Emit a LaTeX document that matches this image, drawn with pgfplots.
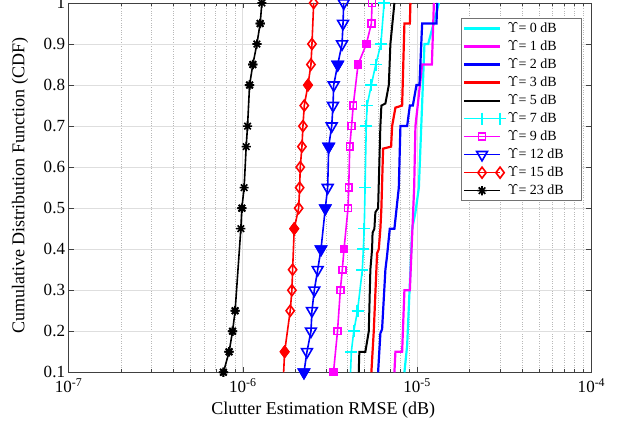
\documentclass[border=0pt]{standalone}
\usepackage{pgfplots}
\pgfplotsset{compat=1.18}
\usepackage{pgfplotstable}
\usepackage{fontspec}
\setmainfont{Liberation Serif}

\definecolor{mcyan}{rgb}{0,1,1}
\definecolor{mmag}{rgb}{1,0,1}
\definecolor{mblue}{rgb}{0,0,1}
\definecolor{mred}{rgb}{1,0,0}

% legend text cell of fixed width, as in the reference box
\newcommand{\legtext}[1]{\makebox[70bp][l]{#1}}

% MATLAB-style 8-armed asterisk
\pgfdeclareplotmark{mstar}{%
  \pgfpathmoveto{\pgfpoint{-\pgfplotmarksize}{0pt}}\pgfpathlineto{\pgfpoint{\pgfplotmarksize}{0pt}}%
  \pgfpathmoveto{\pgfpoint{0pt}{-\pgfplotmarksize}}\pgfpathlineto{\pgfpoint{0pt}{\pgfplotmarksize}}%
  \pgfpathmoveto{\pgfpoint{-0.707\pgfplotmarksize}{-0.707\pgfplotmarksize}}\pgfpathlineto{\pgfpoint{0.707\pgfplotmarksize}{0.707\pgfplotmarksize}}%
  \pgfpathmoveto{\pgfpoint{-0.707\pgfplotmarksize}{0.707\pgfplotmarksize}}\pgfpathlineto{\pgfpoint{0.707\pgfplotmarksize}{-0.707\pgfplotmarksize}}%
  \pgfusepathqstroke}

\pgfplotstableread{
x y
8.452e-6 0.10
8.761e-6 0.165
9.152e-6 0.35
9.360e-6 0.45
9.777e-6 0.49
1.0228e-5 0.55
1.1014e-5 0.90
1.1567e-5 0.90
1.3326e-5 1.00
}\dzero
\pgfplotstableread{
x y
7.406e-6 0.10
7.505e-6 0.15
8.200e-6 0.15
8.452e-6 0.30
9.080e-6 0.30
9.611e-6 0.55
9.777e-6 0.70
1.0684e-5 0.85
1.2148e-5 0.85
1.2474e-5 1.00
}\done
\pgfplotstableread{
x y
5.969e-6 0.10
6.153e-6 0.195
6.293e-6 0.205
6.574e-6 0.35
6.724e-6 0.385
6.968e-6 0.45
7.406e-6 0.45
7.849e-6 0.55
8.017e-6 0.70
8.761e-6 0.70
9.080e-6 0.75
9.448e-6 0.75
9.908e-6 0.80
1.0309e-5 0.80
1.0684e-5 0.95
1.2910e-5 0.95
1.3029e-5 1.00
}\dtwo
\pgfplotstableread{
x y
5.462e-6 0.10
5.638e-6 0.20
5.890e-6 0.39
6.024e-6 0.40
6.153e-6 0.45
6.235e-6 0.50
6.377e-6 0.645
7.089e-6 0.65
7.184e-6 0.70
7.505e-6 0.745
8.200e-6 0.75
8.452e-6 0.95
9.080e-6 0.95
9.152e-6 1.00
}\dthree
\pgfplotstableread{
x y
4.623e-6 0.10
4.660e-6 0.15
5.045e-6 0.15
5.278e-6 0.20
5.390e-6 0.35
5.513e-6 0.40
5.550e-6 0.44
5.684e-6 0.45
5.759e-6 0.49
5.969e-6 0.50
6.153e-6 0.70
6.235e-6 0.75
6.574e-6 0.755
6.876e-6 0.80
7.023e-6 0.90
7.406e-6 1.00
}\dfive
\pgfplotstableread{
x y
4.148e-6 0.10
4.193e-6 0.15
4.328e-6 0.20
4.550e-6 0.25
4.848e-6 0.35
4.913e-6 0.40
4.972e-6 0.45
5.024e-6 0.55
5.105e-6 0.70
5.160e-6 0.75
5.455e-6 0.80
5.789e-6 0.85
6.194e-6 0.90
6.462e-6 1.00
}\dseven
\pgfplotstableread{
x y
3.312e-6 0.10
3.492e-6 0.20
3.624e-6 0.30
3.721e-6 0.35
3.806e-6 0.40
4.012e-6 0.50
4.050e-6 0.55
4.104e-6 0.65
4.204e-6 0.70
4.299e-6 0.75
4.580e-6 0.85
5.112e-6 0.90
5.462e-6 0.95
5.513e-6 1.00
}\dnine
\pgfplotstableread{
x y
2.242e-6 0.10
2.333e-6 0.15
2.459e-6 0.20
2.492e-6 0.25
2.570e-6 0.30
2.688e-6 0.35
2.808e-6 0.40
2.972e-6 0.50
3.067e-6 0.55
3.108e-6 0.65
3.234e-6 0.70
3.290e-6 0.75
3.321e-6 0.80
3.502e-6 0.85
3.707e-6 0.90
3.756e-6 0.95
3.791e-6 1.00
}\dtwelve
\pgfplotstableread{
x y
1.714e-6 0.10
1.737e-6 0.15
1.870e-6 0.25
1.912e-6 0.30
1.930e-6 0.35
1.972e-6 0.45
2.090e-6 0.50
2.118e-6 0.55
2.135e-6 0.60
2.183e-6 0.65
2.212e-6 0.70
2.251e-6 0.75
2.364e-6 0.80
2.459e-6 0.85
2.492e-6 0.90
2.549e-6 1.00
}\dfifteen
\pgfplotstableread{
x y
7.74e-7 0.10
8.34e-7 0.15
8.73e-7 0.20
9.03e-7 0.25
9.74e-7 0.45
9.87e-7 0.50
1.017e-6 0.55
1.045e-6 0.65
1.064e-6 0.70
1.093e-6 0.80
1.141e-6 0.85
1.204e-6 0.90
1.257e-6 0.95
1.286e-6 1.00
}\dtwentythree

\begin{document}
\begin{tikzpicture}
\begin{axis}[
  scale only axis, width=522.5bp, height=369bp,
  xmode=log, xmin=1e-7, xmax=1e-4, ymin=0.1, ymax=1,
  xtick={1e-7,1e-6,1e-5,1e-4},
  xticklabels={10\textsuperscript{-7},10\textsuperscript{-6},10\textsuperscript{-5},10\textsuperscript{-4}},
  ytick={0.1,0.2,0.3,0.4,0.5,0.6,0.7,0.8,0.9,1},
  /pgf/number format/assume math mode=true,
  ticklabel style={font=\fontsize{17bp}{20bp}\selectfont},
  xticklabel style={yshift=-3bp},
  label style={font=\fontsize{18bp}{21bp}\selectfont},
  xlabel={Clutter Estimation RMSE (dB)},
  ylabel={Cumulative Distribution Function (CDF)},
  xlabel style={at={(axis description cs:0.487,-0.103)}, anchor=center},
  ylabel style={at={(axis description cs:-0.0928,0.505)}, anchor=center},
  xmajorgrids, ymajorgrids, xminorgrids,
  major grid style={black!13, line width=0.7bp},
  minor grid style={black!28, dotted, line width=0.7bp},
  axis line style={black!75, line width=0.6bp},
  tick style={black!75, line width=0.6bp},
  major tick length=5bp, minor tick length=3bp,
  legend style={at={(0.981,0.959)}, anchor=north east, draw=black!55, line width=0.8bp,
    fill=white, font=\fontsize{14bp}{17bp}\selectfont, cells={anchor=west},
    nodes={text height=10.5bp, text depth=3.5bp, inner ysep=2bp, inner xsep=1.5bp},
    inner xsep=2bp, inner ysep=1bp},
  legend image code/.code={\draw[mark repeat=2, mark phase=2] plot coordinates {(0bp,0bp) (18bp,0bp) (36bp,0bp)};},
]
\addplot[mcyan, line width=2.2bp, mark=none] table {\dzero};
\addlegendentry{\legtext{$\Upsilon$= 0 dB}}
\addplot[mmag, line width=2.2bp, mark=none] table {\done};
\addlegendentry{\legtext{$\Upsilon$= 1 dB}}
\addplot[mblue, line width=2.2bp, mark=none] table {\dtwo};
\addlegendentry{\legtext{$\Upsilon$= 2 dB}}
\addplot[mred, line width=2.2bp, mark=none] table {\dthree};
\addlegendentry{\legtext{$\Upsilon$= 3 dB}}
\addplot[black, line width=2bp, mark=none] table {\dfive};
\addlegendentry{\legtext{$\Upsilon$= 5 dB}}
\addplot[mcyan, line width=1.6bp, mark=+, mark size=6bp, mark indices={2,...,14}] table {\dseven};
\addlegendentry{\legtext{$\Upsilon$= 7 dB}}
\addplot[mmag, line width=1.6bp, mark=square, mark size=3.4bp] table {\dnine};
\addlegendentry{\legtext{$\Upsilon$= 9 dB}}
\addplot[mblue, line width=1.6bp, mark=triangle, mark size=6.2bp, mark options={rotate=180}] table {\dtwelve};
\addlegendentry{\legtext{$\Upsilon$= 12 dB}}
\addplot[mred, line width=1.6bp, mark=diamond, mark size=5.5bp, mark indices={2,...,16}] table {\dfifteen};
\addlegendentry{\legtext{$\Upsilon$= 15 dB}}
\addplot[black, line width=1.6bp, mark=mstar, mark size=4.6bp] table {\dtwentythree};
\addlegendentry{\legtext{$\Upsilon$= 23 dB}}
% markers drawn twice in the reference look heavier
\addplot[forget plot, only marks, mcyan, mark=+, mark size=6bp, line width=2.4bp, mark indices={4,11,13}] table {\dseven};
\addplot[forget plot, only marks, mmag, mark=square*, mark size=3.4bp, line width=1.6bp, mark indices={1,5,11,12}] table {\dnine};
\addplot[forget plot, only marks, mblue, mark=triangle*, mark size=6.2bp, line width=1.6bp, mark options={rotate=180}, mark indices={1,7,8,10,14}] table {\dtwelve};
\addplot[forget plot, only marks, mred, mark=diamond*, mark size=5.5bp, line width=1.6bp, mark indices={2,6,13}] table {\dfifteen};
\addplot[forget plot, only marks, black, mark=mstar, mark size=4.6bp, line width=1.9bp, mark indices={1,2,3,4,6,10,11,13}] table {\dtwentythree};
\end{axis}
\pgfresetboundingbox
\path[use as bounding box] ([xshift=-68.5bp,yshift=-55bp]current axis.south west) rectangle ([xshift=30.5bp,yshift=3bp]current axis.north east);
\end{tikzpicture}
\end{document}
